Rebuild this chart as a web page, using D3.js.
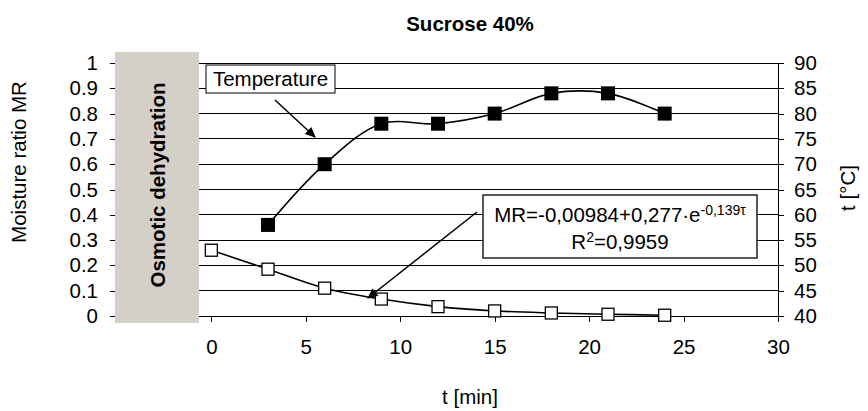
<!DOCTYPE html>
<html><head><meta charset="utf-8">
<script src="https://cdn.jsdelivr.net/npm/d3@7/dist/d3.min.js"></script>
<style>body{margin:0;background:#fff}svg{display:block}text{font-family:"Liberation Sans",Arial,sans-serif;fill:#000}</style>
</head><body>
<svg id="c" width="868" height="411"></svg>
<script>
const title = "Sucrose 40%";
const xTicks = [0,5,10,15,20,25,30];
const mrTicks = [0,0.1,0.2,0.3,0.4,0.5,0.6,0.7,0.8,0.9,1];
const tempTicks = [40,45,50,55,60,65,70,75,80,85,90];
const mrTime = [0,3,6,9,12,15,18,21,24];
const mrValues = [0.26,0.185,0.11,0.067,0.037,0.02,0.012,0.007,0.003];
const tempTime = [3,6,9,12,15,18,21,24];
const tempValues = [58,70,78,78,80,84,84,80];

const FS = 20.5;
const svg = d3.select("#c");
const x = d3.scaleLinear().domain([-5.1,30]).range([115,778]);
const yL = d3.scaleLinear().domain([0,1]).range([316,63]);
const yR = d3.scaleLinear().domain([40,90]).range([316,63]);

// grid
svg.append("g").selectAll("line").data(mrTicks).join("line")
  .attr("x1",115).attr("x2",778).attr("y1",d=>yL(d)).attr("y2",d=>yL(d))
  .attr("stroke","#000").attr("stroke-width",1).attr("shape-rendering","crispEdges");
// right axis line
svg.append("line").attr("x1",778).attr("x2",778).attr("y1",63).attr("y2",316)
  .attr("stroke","#000").attr("shape-rendering","crispEdges");

// left axis
const gL = svg.append("g").attr("transform","translate(115,0)")
  .call(d3.axisLeft(yL).tickValues(mrTicks).tickSize(5).tickPadding(12).tickFormat(d=>d===0?"0":d===1?"1":d3.format(".1f")(d)));
gL.select(".domain").remove();
// right axis
const gR = svg.append("g").attr("transform","translate(778,0)")
  .call(d3.axisRight(yR).tickValues(tempTicks).tickSize(6).tickPadding(10));
gR.select(".domain").remove();
// bottom axis
const gB = svg.append("g").attr("transform","translate(0,316)")
  .call(d3.axisBottom(x).tickValues(xTicks).tickSize(6).tickPadding(17));
gB.select(".domain").remove();
svg.selectAll(".tick text").attr("font-size",FS).attr("font-family","Liberation Sans, Arial, sans-serif").attr("fill","#000");
svg.selectAll(".tick line").attr("stroke","#000").attr("shape-rendering","crispEdges");

// gray osmotic box
svg.append("rect").attr("x",115).attr("y",52).attr("width",84).attr("height",271).attr("fill","#d4d0c8");
svg.append("text").attr("transform","translate(165,185) rotate(-90)").attr("text-anchor","middle")
  .attr("font-size",FS).attr("font-weight","bold").text("Osmotic dehydration");

// curves
const curve = d3.line().curve(d3.curveCatmullRom.alpha(0.5));
svg.append("path").attr("d",curve(mrTime.map((t,i)=>[x(t),yL(mrValues[i])])))
  .attr("fill","none").attr("stroke","#000").attr("stroke-width",1.6);
svg.append("path").attr("d",curve(tempTime.map((t,i)=>[x(t),yR(tempValues[i])])))
  .attr("fill","none").attr("stroke","#000").attr("stroke-width",1.6);

// markers
svg.append("g").selectAll("rect").data(mrTime).join("rect")
  .attr("x",(t)=>x(t)-6).attr("y",(t,i)=>yL(mrValues[i])-6).attr("width",12).attr("height",12)
  .attr("fill","#fff").attr("stroke","#000").attr("stroke-width",1.3);
svg.append("g").selectAll("rect").data(tempTime).join("rect")
  .attr("x",(t)=>x(t)-7).attr("y",(t,i)=>yR(tempValues[i])-7).attr("width",14).attr("height",14)
  .attr("fill","#000");

// arrow marker
svg.append("defs").append("marker").attr("id","ah").attr("viewBox","0 0 10 10")
  .attr("refX",9).attr("refY",5).attr("markerWidth",8.5).attr("markerHeight",7)
  .attr("markerUnits","strokeWidth").attr("orient","auto")
  .append("path").attr("d","M0,0.5 L10,5 L0,9.5 z").attr("fill","#000");

// Temperature label
svg.append("rect").attr("x",206).attr("y",65).attr("width",129).attr("height",28)
  .attr("fill","#fff").attr("stroke","#000").attr("stroke-width",1);
svg.append("text").attr("x",270.5).attr("y",86).attr("text-anchor","middle").attr("font-size",FS).text("Temperature");
svg.append("line").attr("x1",275).attr("y1",100).attr("x2",315).attr("y2",137)
  .attr("stroke","#000").attr("stroke-width",1.5).attr("marker-end","url(#ah)");

// equation label
svg.append("line").attr("x1",477).attr("y1",212).attr("x2",368).attr("y2",298)
  .attr("stroke","#000").attr("stroke-width",1.5).attr("marker-end","url(#ah)");
svg.append("rect").attr("x",483).attr("y",195).attr("width",274).attr("height",63)
  .attr("fill","#fff").attr("stroke","#000").attr("stroke-width",1.3);
const eq = svg.append("text").attr("x",620).attr("y",222).attr("text-anchor","middle").attr("font-size",FS);
eq.append("tspan").text("MR=-0,00984+0,277·e");
eq.append("tspan").attr("font-size",14).attr("dy",-7).text("-0,139τ");
const r2 = svg.append("text").attr("x",620).attr("y",249).attr("text-anchor","middle").attr("font-size",FS);
r2.append("tspan").text("R");
r2.append("tspan").attr("font-size",14).attr("dy",-7).text("2");
r2.append("tspan").attr("dy",7).text("=0,9959");

// titles
svg.append("text").attr("x",470).attr("y",31).attr("text-anchor","middle").attr("font-size",FS).attr("font-weight","bold").text(title);
svg.append("text").attr("transform","translate(26,162) rotate(-90)").attr("text-anchor","middle").attr("font-size",FS).text("Moisture ratio MR");
svg.append("text").attr("transform","translate(855,188) rotate(-90)").attr("text-anchor","middle").attr("font-size",FS).text("t [°C]");
svg.append("text").attr("x",470).attr("y",404).attr("text-anchor","middle").attr("font-size",FS).text("t [min]");
</script>
</body></html>
